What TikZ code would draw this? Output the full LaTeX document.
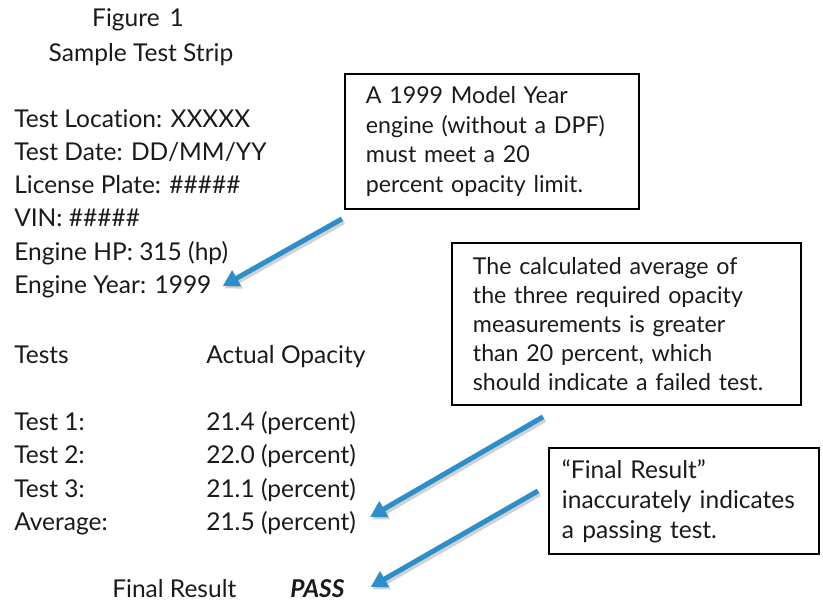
\documentclass[tikz,border=0pt]{standalone}
\usepackage{fontspec}
\setmainfont{Lato}[Ligatures={TeX,NoCommon}]
\usepackage{xcolor}
\usetikzlibrary{arrows.meta}
\definecolor{arrowblue}{HTML}{2C8FC9}
\definecolor{inkgray}{HTML}{1A1A1A}
\tikzset{
  txt/.style={anchor=base west, inner sep=0pt, text=inkgray, font=\fontsize{18.4}{22}\selectfont},
  note/.style={draw, line width=1.4pt, anchor=north west, align=left, text=inkgray,
    inner ysep=0pt, font=\fontsize{17.4}{22.4}\selectfont},
  callout/.style={line width=3.75pt, arrowblue, -{Triangle[length=12pt,width=13pt]},
    preaction={draw=black, opacity=0.18, line width=4.5pt, transform canvas={shift={(1.2pt,-1.8pt)}}}}
}

\begin{document}
\begin{tikzpicture}[x=0.75pt,y=-0.75pt]
\useasboundingbox (0,0) rectangle (823,601);

% Title
\node[txt, anchor=base] (fig) at (138,26) {Figure\hspace{0.4em}1};
\node[txt, anchor=base] (strip) at (141,61) {Sample Test Strip};

% Header data
\node[txt] (loc) at (14,127) {Test Location: XXXXX};
\node[txt] (date) at (14,160) {Test Date: DD/MM/YY};
\node[txt] (plate) at (14,193) {License Plate: \#\#\#\#\#};
\node[txt] (vin) at (14,226) {VIN: \#\#\#\#\#};
\node[txt] (hp) at (14,260) {Engine HP: 315 (hp)};
\node[txt] (year) at (14,293) {Engine Year: 1999};

% Table of tests
\node[txt] (tests) at (14,363) {Tests};
\node[txt] (opac) at (206,363) {Actual Opacity};
\node[txt] (t1) at (14,430) {Test 1:};
\node[txt] (v1) at (206,430) {21.4 (percent)};
\node[txt] (t2) at (14,463) {Test 2:};
\node[txt] (v2) at (206,463) {22.0 (percent)};
\node[txt] (t3) at (14,497) {Test 3:};
\node[txt] (v3) at (206,497) {21.1 (percent)};
\node[txt] (avg) at (14,530) {Average:};
\node[txt] (vavg) at (206,530) {21.5 (percent)};

\node[txt] (final) at (112,597) {Final Result};
\node[txt, font=\fontsize{18.4}{22}\selectfont\bfseries\itshape] (pass) at (290,597) {PASS};

% Callout boxes
\node[note, inner xsep=15.75pt, text width=189pt, minimum height=101.25pt] (limit) at (344,73)
  {A 1999 Model Year\\engine (without a DPF)\\must meet a 20\\percent opacity limit.};
\node[note, inner xsep=15.75pt, text width=230.25pt, minimum height=121.5pt,
  font=\fontsize{17.4}{21.75}\selectfont] (calc) at (451,242)
  {The calculated average of\\the three required opacity\\measurements is greater\\than 20 percent, which\\should indicate a failed test.};
\node[note, inner xsep=9.75pt, text width=183pt, minimum height=79.5pt,
  font=\fontsize{18.4}{22.5}\selectfont] (result) at (548,447)
  {“Final Result”\\inaccurately indicates\\a passing test.};

% Arrows
\draw[callout] ([shift={(-2,9)}]limit.south west) -- ([shift={(11,-7)}]year.base east);
\draw[callout] ([shift={(92,11)}]calc.south west) -- ([shift={(14,-13)}]vavg.base east);
\draw[callout] ([shift={(-10,-10)}]result.west) -- ([shift={(26,-10)}]pass.base east);
\end{tikzpicture}
\end{document}
